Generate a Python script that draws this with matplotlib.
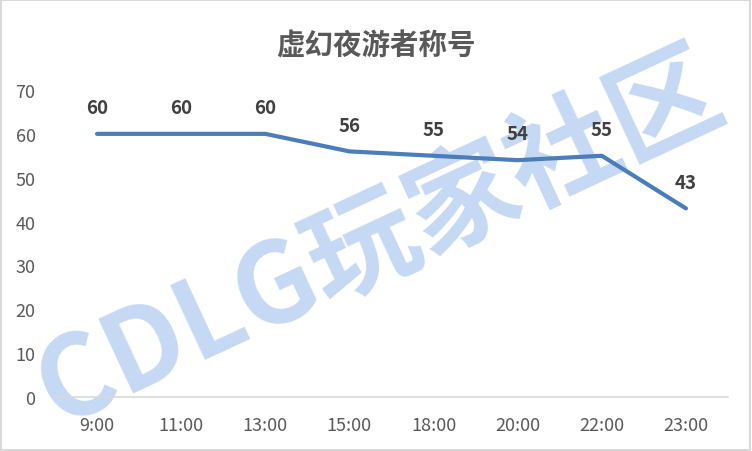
import matplotlib
matplotlib.use("Agg")
import matplotlib.pyplot as plt
from matplotlib.patches import Rectangle

plt.rcParams['font.family'] = ['Noto Sans CJK SC', 'DejaVu Sans']

# data
times = ['9:00', '11:00', '13:00', '15:00', '18:00', '20:00', '22:00', '23:00']
values = [60, 60, 60, 56, 55, 54, 55, 43]
yticks = [0, 10, 20, 30, 40, 50, 60, 70]
title = '虚幻夜游者称号'


def main():
    fig = plt.figure(figsize=(7.52, 4.52), dpi=100)
    ax = fig.add_axes([55 / 752, 54 / 452, 673 / 752, 307 / 452])

    # watermark behind everything
    fig.text(0.505, 0.47, 'CDLG玩家社区', fontsize=80, fontweight='black',
             color='#c5d8f4', rotation=25, ha='center', va='center', zorder=-1)

    x = list(range(len(times)))
    ax.plot(x, values, color='#4a7dba', lw=3.0, solid_capstyle='round', zorder=3)
    for xi, v in zip(x, values):
        ax.annotate(str(v), (xi, v), xytext=(0, 19), textcoords='offset points',
                    ha='center', va='center', fontsize=13.5, fontweight='bold',
                    color='#404040', zorder=5)

    ax.set_xlim(-0.5, len(times) - 0.5)
    ax.set_ylim(0, 70)
    ax.set_xticks(x)
    ax.set_xticklabels(times)
    ax.set_yticks(yticks)
    ax.tick_params(length=0, labelsize=13, colors='#595959')
    ax.tick_params(axis='x', pad=14)
    ax.tick_params(axis='y', pad=14)
    for side in ['left', 'right', 'top']:
        ax.spines[side].set_visible(False)
    ax.spines['bottom'].set_color('#d9d9d9')
    ax.spines['bottom'].set_linewidth(1.2)
    ax.patch.set_alpha(0)

    fig.text(0.5, 1 - 47 / 452, title, ha='center', va='center', fontsize=20.5,
             fontweight='bold', color='#595959')

    fig.patches.append(Rectangle((0.001, 0.002), 0.997, 0.996, transform=fig.transFigure,
                                 fill=False, edgecolor='#d9d9d9', lw=1.5))

    fig.savefig('out.png', dpi=100)


if __name__ == '__main__':
    main()
